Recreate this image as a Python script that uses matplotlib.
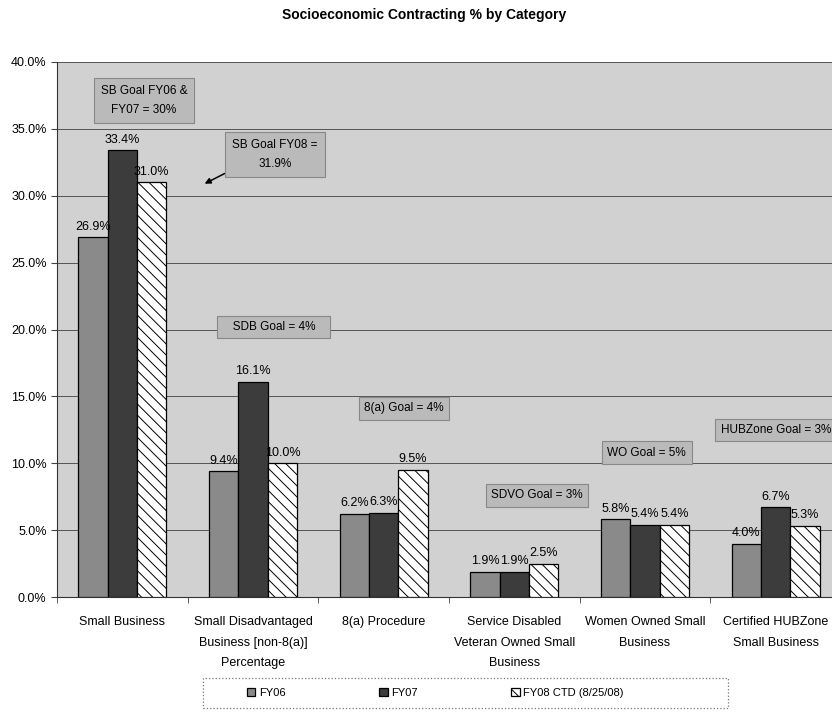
import matplotlib.pyplot as plt
from matplotlib.patches import Rectangle
import numpy as np

plt.rcParams['font.family'] = ['Liberation Sans', 'DejaVu Sans']
plt.rcParams['hatch.linewidth'] = 0.7

# ===============================
# DATA
# ===============================
categories = [
    "Small Business",
    "Small Disadvantaged\nBusiness [non-8(a)]\nPercentage",
    "8(a) Procedure",
    "Service Disabled\nVeteran Owned Small\nBusiness",
    "Women Owned Small\nBusiness",
    "Certified HUBZone\nSmall Business",
]
series_names = ["FY06", "FY07", "FY08 CTD (8/25/08)"]
fy06 = [26.9, 9.4, 6.2, 1.9, 5.8, 4.0]
fy07 = [33.4, 16.1, 6.3, 1.9, 5.4, 6.7]
fy08 = [31.0, 10.0, 9.5, 2.5, 5.4, 5.3]
y_ticks = [0, 5, 10, 15, 20, 25, 30, 35, 40]

# ===============================
# FIGURE
# ===============================
fig = plt.figure(figsize=(8.32, 7.13), dpi=100)
ax = fig.add_axes([57 / 832, 1 - 597 / 713, 784 / 832, 535 / 713])
ax.set_facecolor("#d1d1d1")

x = np.arange(len(categories))
w = 0.225
styles = [
    dict(color="#8a8a8a", edgecolor="black"),
    dict(color="#3c3c3c", edgecolor="black"),
    dict(color="white", edgecolor="black", hatch="\\\\\\"),
]
for i, (vals, st, name) in enumerate(zip([fy06, fy07, fy08], styles, series_names)):
    bars = ax.bar(x + (i - 1) * w, vals, w, label=name, linewidth=0.9, zorder=3, **st)
    for b, v in zip(bars, vals):
        ax.text(b.get_x() + b.get_width() / 2, v + 0.35, f"{v:.1f}%",
                ha="center", va="bottom", fontsize=9, zorder=4)

ax.set_xlim(-0.5, len(categories) - 0.5)
ax.set_ylim(0, 40)
ax.set_yticks(y_ticks)
ax.set_yticklabels([f"{t:.1f}%" for t in y_ticks], fontsize=9)
ax.yaxis.grid(True, color="#555555", linewidth=0.7, zorder=0)
ax.set_axisbelow(True)

ax.set_xticks(x)
ax.set_xticklabels(categories, fontsize=9, linespacing=1.9)
ax.set_xticks(np.arange(len(categories) + 1) - 0.5, minor=True)
ax.tick_params(axis="x", which="major", length=0, pad=14)
ax.tick_params(axis="x", which="minor", length=4, color="#444444")
ax.tick_params(axis="y", length=4, color="#444444")

for s in ["top", "right"]:
    ax.spines[s].set_visible(False)
ax.spines["left"].set_color("#333333")
ax.spines["bottom"].set_color("#333333")

# ===============================
# GOAL BOXES
# ===============================
box = dict(boxstyle="square,pad=0.45", facecolor="#bababa", edgecolor="#888888", linewidth=0.8)
box2 = dict(boxstyle="square,pad=0.6", facecolor="#bababa", edgecolor="#888888", linewidth=0.8)
ax.text(0.166, 37.1, "SB Goal FY06 &\nFY07 = 30%", ha="center", va="center",
        fontsize=8.5, bbox=box2, zorder=5, linespacing=1.75)
ax.annotate("SB Goal FY08 =\n31.9%", xy=(0.63, 30.9), xytext=(1.168, 33.1),
            ha="center", va="center", fontsize=8.5, bbox=box2, zorder=5, linespacing=1.75,
            arrowprops=dict(arrowstyle="-|>", color="black", lw=1.1,
                            shrinkA=0, shrinkB=0, relpos=(0, 0)))
ax.text(1.16, 20.2, "   SDB Goal = 4%   ", ha="center", va="center", fontsize=8.5, bbox=box, zorder=5)
ax.text(2.155, 14.1, "8(a) Goal = 4%", ha="center", va="center", fontsize=8.5, bbox=box, zorder=5)
ax.text(3.173, 7.6, "SDVO Goal = 3%", ha="center", va="center", fontsize=8.5, bbox=box, zorder=5)
ax.text(4.014, 10.8, "WO Goal = 5%", ha="center", va="center", fontsize=8.5, bbox=box, zorder=5)
ax.text(4.58, 12.5, "HUBZone Goal = 3%", ha="left", va="center", fontsize=8.5, bbox=box, zorder=5)

# ===============================
# TITLE + LEGEND
# ===============================
fig.text(424 / 832, 1 - 15 / 713, "Socioeconomic Contracting % by Category",
         ha="center", va="center", fontsize=10, fontweight="bold")

fig.patches.append(Rectangle((203 / 832, 1 - 708 / 713), 525 / 832, 30 / 713,
                             transform=fig.transFigure, fill=False,
                             edgecolor="#777777", linestyle=":", linewidth=0.9))
leg = fig.legend(loc="center", ncol=3, bbox_to_anchor=(435 / 832, 1 - 693 / 713),
                 fontsize=8, handlelength=0.8, handleheight=0.8, handletextpad=0.3,
                 columnspacing=8.4, frameon=False)

plt.savefig("out.png", dpi=100)
